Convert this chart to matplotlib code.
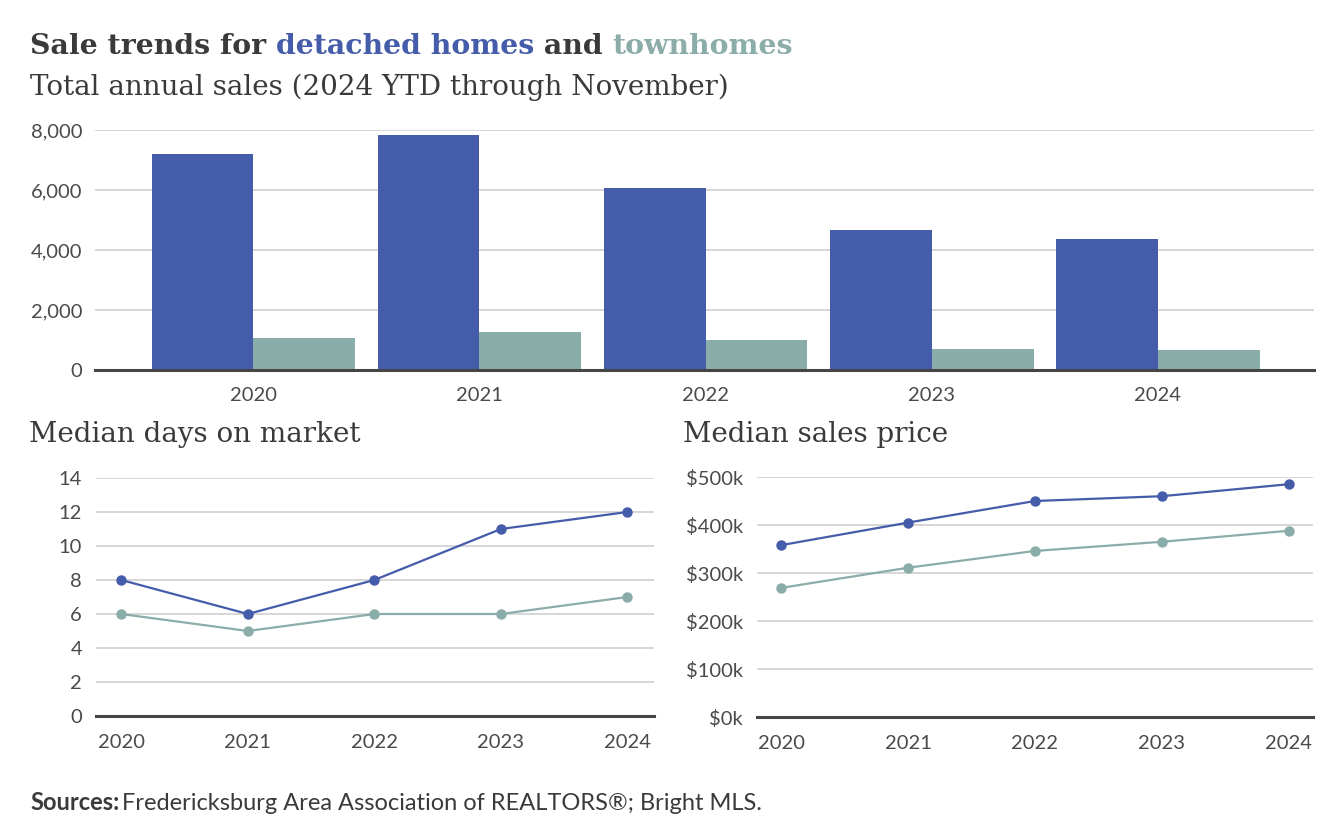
import matplotlib
matplotlib.use('Agg')
import matplotlib.pyplot as plt
import numpy as np
from matplotlib.ticker import FuncFormatter

# ---------------- data ----------------
years = ['2020', '2021', '2022', '2023', '2024']
detached_sales = [7200, 7830, 6060, 4660, 4360]
townhome_sales = [1050, 1250, 1010, 710, 650]
detached_days = [8, 6, 8, 11, 12]
townhome_days = [6, 5, 6, 6, 7]
detached_price = [358, 405, 450, 460, 485]   # $k
townhome_price = [269, 311, 346, 365, 388]   # $k
sales_ticks = [0, 2000, 4000, 6000, 8000]
days_ticks = [0, 2, 4, 6, 8, 10, 12, 14]
price_ticks = [0, 100, 200, 300, 400, 500]

# ---------------- style ----------------
BLUE = '#445CA9'
GREEN = '#8BADAA'
TEXT = '#3A3A3A'
TICK = '#4A4A4A'
GRID = '#CCCCCC'
AXIS = '#454545'
SERIF = 'DejaVu Serif'
SANS = 'Lato'

W, H = 1344, 830
fig = plt.figure(figsize=(W / 100, H / 100), dpi=100)


def rect(l, t, r, b):
    return [l / W, 1 - b / H, (r - l) / W, (b - t) / H]


def style(ax, ylim, ticks, fmt, xpad, ypad):
    ax.set_ylim(*ylim)
    ax.set_yticks(ticks)
    ax.yaxis.set_major_formatter(FuncFormatter(fmt))
    for s in ['top', 'right', 'left']:
        ax.spines[s].set_visible(False)
    ax.spines['bottom'].set_color(AXIS)
    ax.spines['bottom'].set_linewidth(2.2)
    ax.spines['bottom'].set_zorder(5)
    ax.grid(axis='y', color=GRID, linewidth=1.1)
    ax.set_axisbelow(True)
    ax.tick_params(axis='both', length=0, labelsize=14.5, labelcolor=TICK)
    ax.tick_params(axis='x', pad=xpad)
    ax.tick_params(axis='y', pad=ypad)
    for lab in ax.get_xticklabels() + ax.get_yticklabels():
        lab.set_fontfamily(SANS)


# ---------------- bar chart ----------------
ax1 = fig.add_axes(rect(95, 130, 1314, 370))
x = np.arange(len(years))
w = 0.45
ax1.bar(x - w / 2, detached_sales, w, color=BLUE, zorder=3)
ax1.bar(x + w / 2, townhome_sales, w, color=GREEN, zorder=3)
ax1.set_xlim(-0.70, 4.69)
ax1.set_xticks(x)
ax1.set_xticklabels(years)
style(ax1, (0, 8000), sales_ticks, lambda v, p: f'{int(v):,}', 12.5, 9)

# ---------------- days chart ----------------
ax2 = fig.add_axes(rect(96, 478, 654, 716))
ax2.plot(x, detached_days, color=BLUE, lw=1.6, marker='o', ms=6.5, zorder=4, clip_on=False)
ax2.plot(x, townhome_days, color=GREEN, lw=1.6, marker='o', ms=6.5, zorder=4, clip_on=False)
ax2.set_xlim(-0.20, 4.21)
ax2.set_xticks(x)
ax2.set_xticklabels(years)
style(ax2, (0, 14), days_ticks, lambda v, p: f'{int(v)}', 13, 10)

# ---------------- price chart ----------------
ax3 = fig.add_axes(rect(757, 477, 1313, 717))
ax3.plot(x, detached_price, color=BLUE, lw=1.6, marker='o', ms=6.5, zorder=4, clip_on=False)
ax3.plot(x, townhome_price, color=GREEN, lw=1.6, marker='o', ms=6.5, zorder=4, clip_on=False)
ax3.set_xlim(-0.19, 4.19)
ax3.set_xticks(x)
ax3.set_xticklabels(years)
style(ax3, (0, 500), price_ticks, lambda v, p: f'${int(v)}k', 13, 10)

# ---------------- texts ----------------
TITLE_SIZE = 20.4
title_parts = [('Sale trends for ', TEXT), ('detached homes', BLUE), (' and ', TEXT), ('townhomes', GREEN)]
prev = fig.text(30 / W, 1 - 54 / H, title_parts[0][0], color=title_parts[0][1], fontsize=TITLE_SIZE,
                family=SERIF, weight='bold', va='baseline', ha='left')
for txt, col in title_parts[1:]:
    prev = plt.annotate(txt, xy=(1, 0), xycoords=prev, xytext=(0, 0), textcoords='offset points',
                        color=col, fontsize=TITLE_SIZE, family=SERIF, weight='bold',
                        va='bottom', ha='left', annotation_clip=False)

fig.text(30 / W, 1 - 95 / H, 'Total annual sales (2024 YTD through November)', color=TEXT,
         fontsize=20, family=SERIF, va='baseline', ha='left')
fig.text(29 / W, 1 - 442 / H, 'Median days on market', color=TEXT,
         fontsize=20, family=SERIF, va='baseline', ha='left')
fig.text(683 / W, 1 - 442 / H, 'Median sales price', color=TEXT,
         fontsize=20, family=SERIF, va='baseline', ha='left')

src = fig.text(30 / W, 1 - 810 / H, 'Sources:', color=TEXT, fontsize=17,
               family=SANS, weight='bold', va='baseline', ha='left')
plt.annotate(' Fredericksburg Area Association of REALTORS®; Bright MLS.', xy=(1, 0), xycoords=src,
             xytext=(-2, 0), textcoords='offset points', color=TEXT, fontsize=17,
             family=SANS, va='bottom', ha='left', annotation_clip=False)

fig.savefig('out.png', dpi=100, facecolor='white')
